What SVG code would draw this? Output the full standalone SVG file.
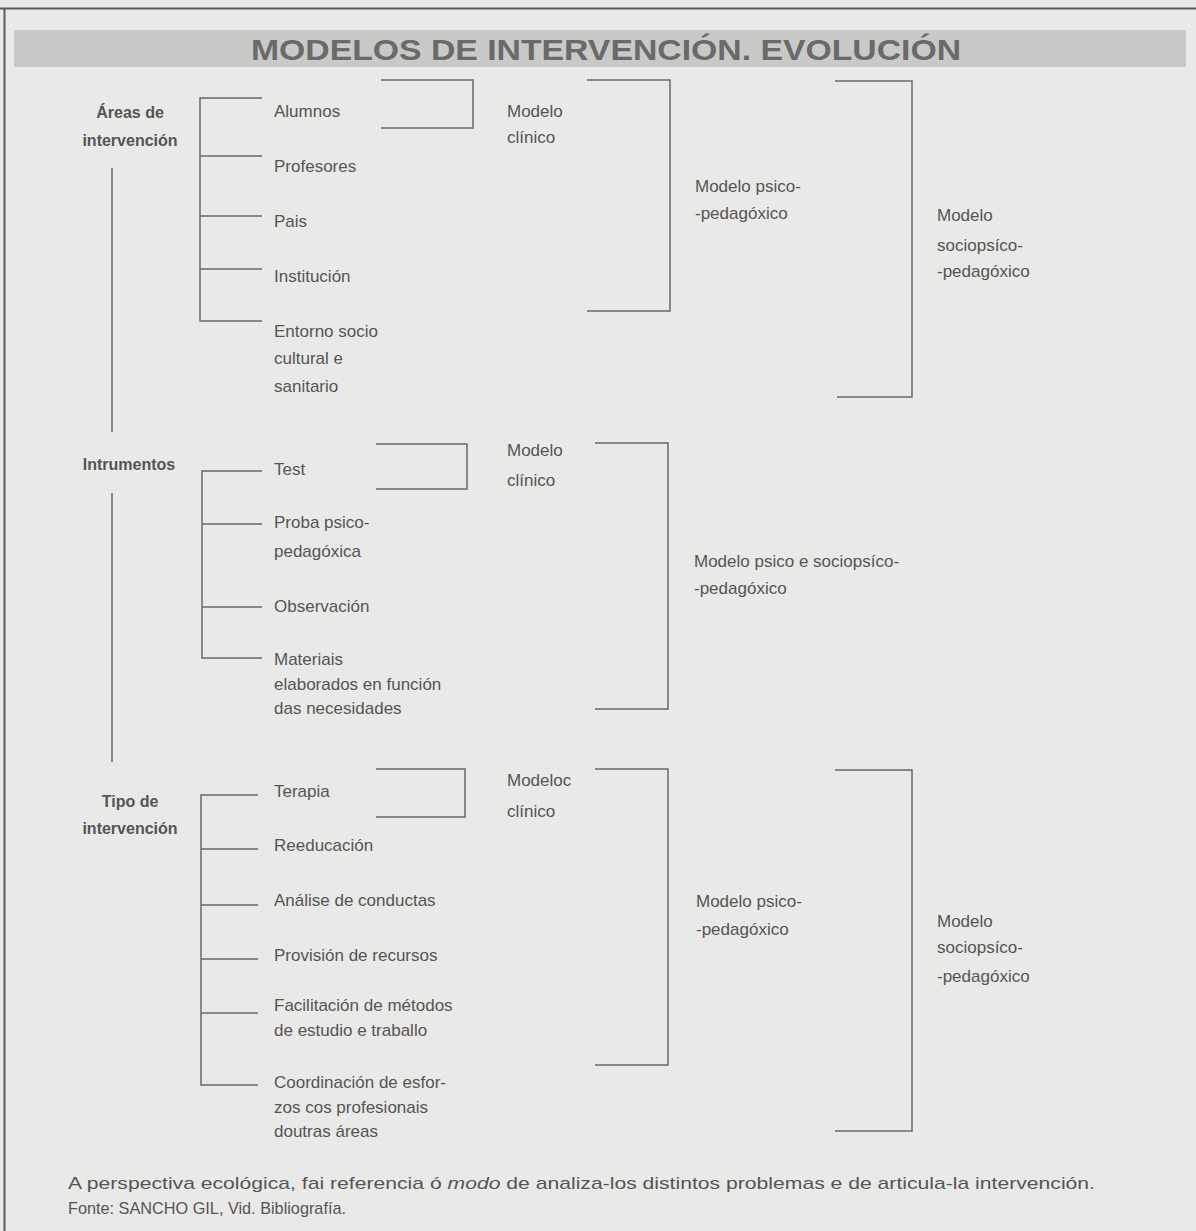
<svg xmlns="http://www.w3.org/2000/svg" width="1196" height="1231" viewBox="0 0 1196 1231">
<style>
.t{font-family:"Liberation Sans",Arial,sans-serif;font-size:17px;fill:#555}
.b{font-family:"Liberation Sans",Arial,sans-serif;font-size:16px;font-weight:bold;fill:#555;text-anchor:middle}
.f{font-family:"Liberation Sans",Arial,sans-serif;font-size:17px;fill:#555}
.ln{stroke:#6a6a6a;stroke-width:1.5;fill:none}
</style>
<rect x="0" y="0" width="1196" height="1231" fill="#e9e9e7"/>
<path d="M0 8.5 H1196 M4.5 8 V1231" stroke="#5a5a5a" stroke-width="2" fill="none"/>
<g id="title">
<rect x="14" y="30" width="1172" height="37" fill="#c9c9c7"/>
<text x="251" y="60" textLength="710" lengthAdjust="spacingAndGlyphs" style="font-family:'Liberation Sans',Arial,sans-serif;font-size:30px;font-weight:bold;fill:#6a6a6a">MODELOS DE INTERVENCIÓN. EVOLUCIÓN</text>
</g>
<g id="connectors" class="ln">
<path d="M112 168 V432 M112 493 V762"/>
<path d="M262 98 H200 V321 H262 M200 156 H262 M200 216 H262 M200 269 H262"/>
<path d="M381 80 H473 V128 H381"/>
<path d="M587 80 H670 V311 H587"/>
<path d="M835 81 H912 V397 H837"/>
<path d="M262 471 H202 V658 H262 M202 524 H262 M202 607 H262"/>
<path d="M376 444 H467 V489 H376"/>
<path d="M595 443 H668 V709 H595"/>
<path d="M258 795 H201 V1085 H258 M201 849 H258 M201 905 H258 M201 959 H258 M201 1013 H258"/>
<path d="M376 769 H465 V817 H376"/>
<path d="M595 769 H668 V1065 H595"/>
<path d="M835 770 H912 V1131 H835"/>
</g>
<g id="areas"><text class="b" x="130" y="118">Áreas de</text><text class="b" x="130" y="146">intervención</text></g>
<g id="alumnos"><text class="t" x="274" y="117">Alumnos</text></g>
<g id="profesores"><text class="t" x="274" y="172">Profesores</text></g>
<g id="pais"><text class="t" x="274" y="227">Pais</text></g>
<g id="institucion"><text class="t" x="274" y="282">Institución</text></g>
<g id="entorno"><text class="t" x="274" y="337">Entorno socio</text><text class="t" x="274" y="364">cultural e</text><text class="t" x="274" y="392">sanitario</text></g>
<g id="m-clinico-1"><text class="t" x="507" y="117">Modelo</text><text class="t" x="507" y="143">clínico</text></g>
<g id="m-psico-1"><text class="t" x="695" y="192">Modelo psico-</text><text class="t" x="695" y="219">-pedagóxico</text></g>
<g id="m-socio-1"><text class="t" x="937" y="221">Modelo</text><text class="t" x="937" y="251">sociopsíco-</text><text class="t" x="937" y="277">-pedagóxico</text></g>
<g id="instrumentos"><text class="b" x="129" y="470">Intrumentos</text></g>
<g id="test"><text class="t" x="274" y="475">Test</text></g>
<g id="proba"><text class="t" x="274" y="528">Proba psico-</text><text class="t" x="274" y="557">pedagóxica</text></g>
<g id="observacion"><text class="t" x="274" y="612">Observación</text></g>
<g id="materiais"><text class="t" x="274" y="665">Materiais</text><text class="t" x="274" y="690">elaborados en función</text><text class="t" x="274" y="714">das necesidades</text></g>
<g id="m-clinico-2"><text class="t" x="507" y="456">Modelo</text><text class="t" x="507" y="486">clínico</text></g>
<g id="m-psico-socio-2"><text class="t" x="694" y="567">Modelo psico e sociopsíco-</text><text class="t" x="694" y="594">-pedagóxico</text></g>
<g id="tipo"><text class="b" x="130" y="807">Tipo de</text><text class="b" x="130" y="834">intervención</text></g>
<g id="terapia"><text class="t" x="274" y="797">Terapia</text></g>
<g id="reeducacion"><text class="t" x="274" y="851">Reeducación</text></g>
<g id="analise"><text class="t" x="274" y="906">Análise de conductas</text></g>
<g id="provision"><text class="t" x="274" y="961">Provisión de recursos</text></g>
<g id="facilitacion"><text class="t" x="274" y="1011">Facilitación de métodos</text><text class="t" x="274" y="1036">de estudio e traballo</text></g>
<g id="coordinacion"><text class="t" x="274" y="1088">Coordinación de esfor-</text><text class="t" x="274" y="1113">zos cos profesionais</text><text class="t" x="274" y="1137">doutras áreas</text></g>
<g id="m-clinico-3"><text class="t" x="507" y="786">Modeloc</text><text class="t" x="507" y="817">clínico</text></g>
<g id="m-psico-3"><text class="t" x="696" y="907">Modelo psico-</text><text class="t" x="696" y="935">-pedagóxico</text></g>
<g id="m-socio-3"><text class="t" x="937" y="927">Modelo</text><text class="t" x="937" y="953">sociopsíco-</text><text class="t" x="937" y="982">-pedagóxico</text></g>
<g id="footer">
<text class="f" x="68" y="1189" textLength="1027" lengthAdjust="spacingAndGlyphs">A perspectiva ecológica, fai referencia ó <tspan font-style="italic">modo</tspan> de analiza-los distintos problemas e de articula-la intervención.</text>
<text class="f" x="68" y="1214" textLength="278" lengthAdjust="spacingAndGlyphs">Fonte: SANCHO GIL, Vid. Bibliografía.</text>
</g>
</svg>
